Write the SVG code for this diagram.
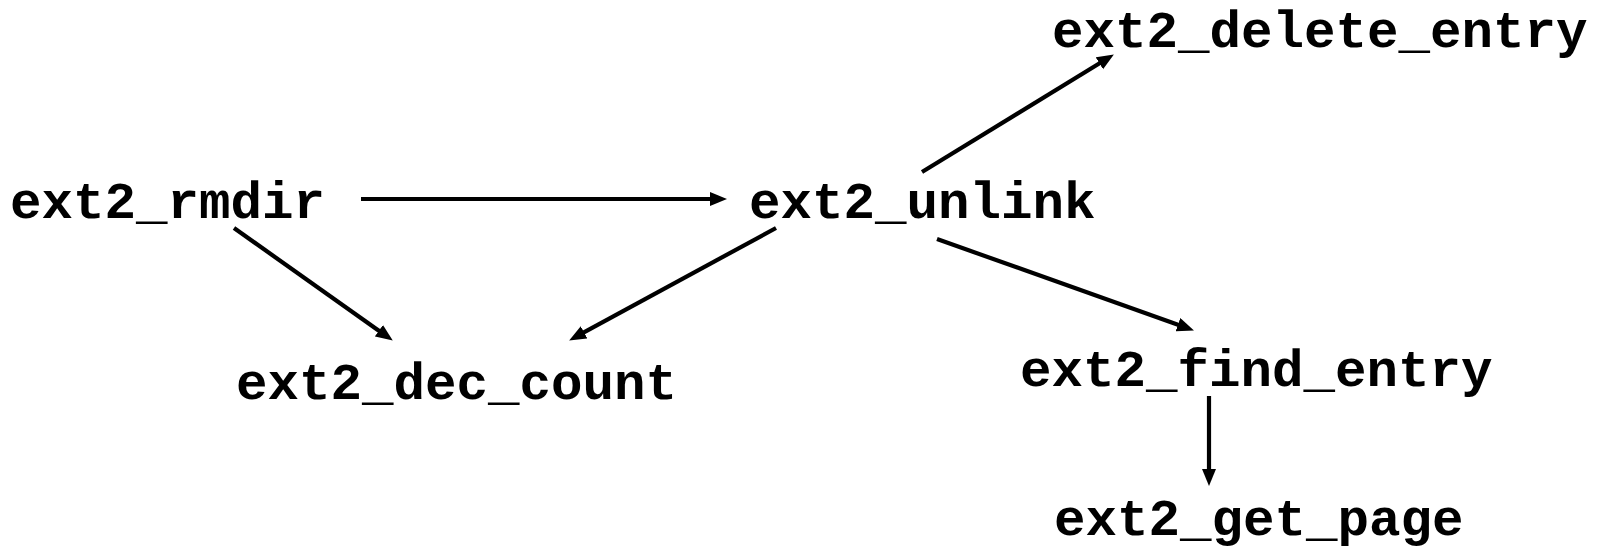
<svg xmlns="http://www.w3.org/2000/svg" width="1608" height="551" viewBox="0 0 1608 551">
  <defs>
    <marker id="arrow" markerUnits="userSpaceOnUse" markerWidth="19" markerHeight="15" refX="6" refY="7" orient="auto">
      <path d="M0,0 L17,7 L0,14 z" fill="#000"/>
    </marker>
    <style>
      .label { font-family: "Liberation Mono", "Courier New", monospace; font-weight: bold; font-size: 52.5px; fill: #000; }
      .edge { stroke: #000; stroke-width: 4.2; fill: none; marker-end: url(#arrow); }
    </style>
  </defs>
  <rect width="1608" height="551" fill="#fff"/>

  <g id="connectors">
    <line class="edge" x1="361" y1="199" x2="716" y2="199"/>
    <line class="edge" x1="234" y1="228" x2="383.8" y2="334.2"/>
    <line class="edge" x1="776" y1="228" x2="578.8" y2="335.2"/>
    <line class="edge" x1="922" y1="172" x2="1104.5" y2="60.2"/>
    <line class="edge" x1="937" y1="239" x2="1183.6" y2="326.7"/>
    <line class="edge" x1="1209" y1="396" x2="1209" y2="475"/>
  </g>

  <g id="ext2_rmdir">
    <text class="label" x="10" y="218">ext2_rmdir</text>
  </g>
  <g id="ext2_unlink">
    <text class="label" x="749" y="218">ext2_unlink</text>
  </g>
  <g id="ext2_delete_entry">
    <text class="label" x="1052" y="47">ext2_delete_entry</text>
  </g>
  <g id="ext2_dec_count">
    <text class="label" x="236" y="399">ext2_dec_count</text>
  </g>
  <g id="ext2_find_entry">
    <text class="label" x="1020" y="386">ext2_find_entry</text>
  </g>
  <g id="ext2_get_page">
    <text class="label" x="1054" y="535">ext2_get_page</text>
  </g>
</svg>
